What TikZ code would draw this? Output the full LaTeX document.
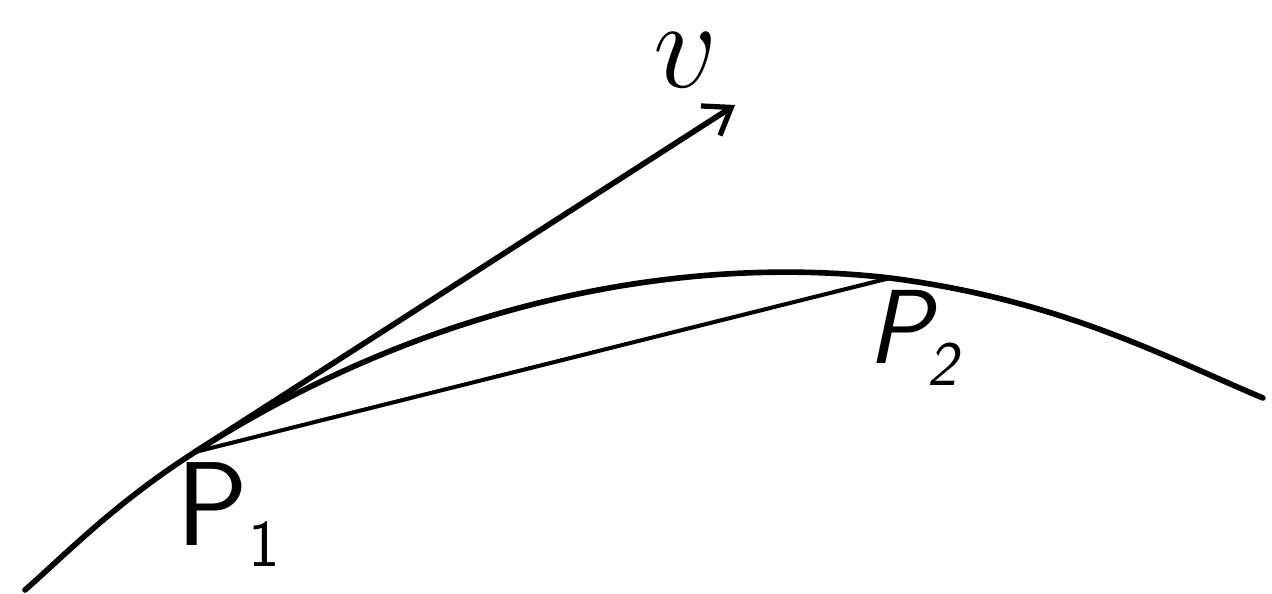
\RequirePackage{fix-cm}
\documentclass[tikz,border=0pt]{standalone}
\usetikzlibrary{arrows.meta}
\begin{document}
\begin{tikzpicture}[x=0.02cm,y=-0.02cm,
  curve/.style={line width=3.2pt,line cap=round,line join=round},
  chord/.style={line width=2.3pt,line cap=round},
  vec/.style={line width=3.2pt,line cap=round,-{Straight Barb[length=14pt,width=20pt,line width=3pt]}},
  lab/.style={inner sep=0pt}]
\useasboundingbox (0,0) rectangle (1272,594);
\coordinate (A) at (25,590);
\coordinate (P1) at (195,452);
\coordinate (P2) at (890,278);
\coordinate (B) at (1263,398);
\coordinate (V) at (735,105);
\draw[curve] (A) .. controls (65,555) and (115,503) .. (P1)
  .. controls (445,292) and (700,256) .. (P2)
  .. controls (1060,300) and (1163,356) .. (B);
\draw[chord] (P1) -- (P2);
\draw[vec] (P1) -- (V);
\node[lab] (v) at (686,60) {\fontsize{72}{72}\selectfont$v$};
\node[lab] (l1) at (228,515) {\fontsize{68}{68}\selectfont\sffamily P\raisebox{-12pt}{\fontsize{38}{38}\selectfont 1}};
\node[lab] (l2) at (912,338) {\fontsize{60}{60}\selectfont\sffamily\slshape P\kern-2pt\raisebox{-13pt}{\fontsize{36}{36}\selectfont 2}};
\end{tikzpicture}
\end{document}
